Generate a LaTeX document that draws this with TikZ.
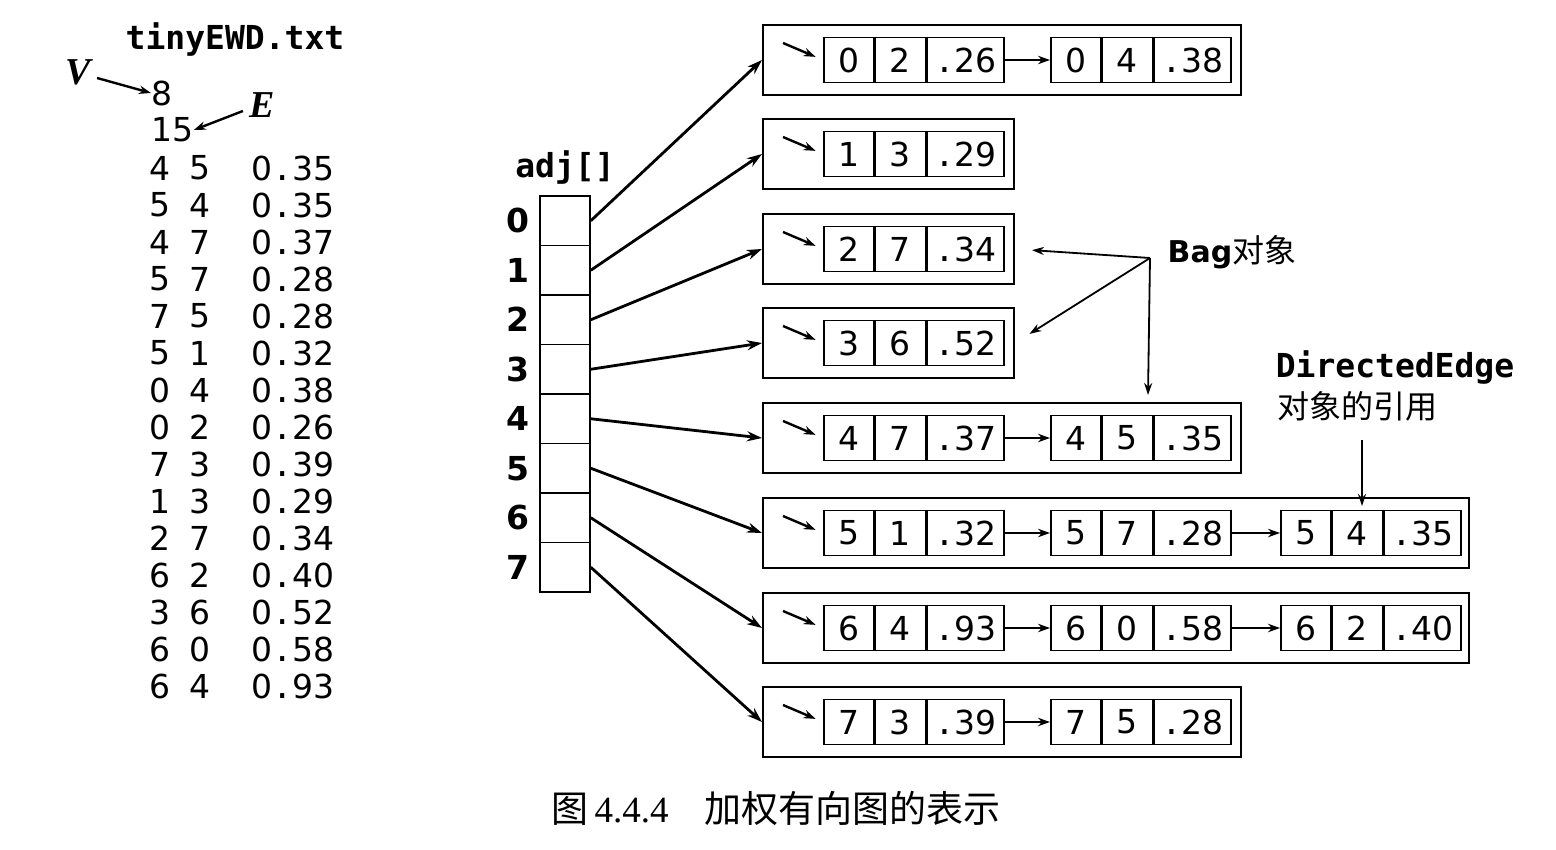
\documentclass[tikz,border=0pt]{standalone}
\usepackage{fontspec}
\usetikzlibrary{arrows.meta,calc}
\setmainfont{Liberation Serif}
\newfontfamily\mono{DejaVu Sans Mono}
\newfontfamily\cjk{Noto Sans CJK SC}
\newfontfamily\lsans{DejaVu Sans}
\newcommand\dotm{{\mono.}}
\newcommand\edgerec[6]{%
 \node[cell,minimum width=25pt,anchor=west] (#1a) at (#2,#3) {#4};
 \node[cell,minimum width=25pt,anchor=west] (#1b) at (#1a.east) {#5};
 \node[cell,minimum width=38.5pt,anchor=west] (#1c) at (#1b.east) {\dotm#6};}
\begin{document}
\begin{tikzpicture}[x=0.5pt,y=-0.5pt,
 cell/.style={draw, line width=0.8pt, minimum height=22.5pt, inner sep=0pt, font=\lsans\fontsize{16.5}{18}\selectfont},
 acell/.style={draw, line width=0.8pt, minimum height=24.75pt, minimum width=25pt, inner sep=0pt},
 bagbox/.style={draw, line width=1pt, minimum height=35pt, inner sep=0pt, anchor=west},
 arr/.style={line width=1.4pt, -{Stealth[length=7.5pt,width=5pt]}},
 sarr/.style={line width=1.2pt, -{Stealth[length=6pt,width=4.2pt]}},
 larr/.style={line width=0.9pt, -{Stealth[length=6pt,width=4pt]}},
 txt/.style={inner sep=0pt, font=\lsans\fontsize{16.5}{18}\selectfont},
 btxt/.style={inner sep=0pt, font=\mono\bfseries\fontsize{16.5}{18}\selectfont},
 idx/.style={inner sep=0pt, font=\lsans\bfseries\fontsize{16.5}{18}\selectfont},
 ital/.style={inner sep=0pt, font=\bfseries\itshape\fontsize{19}{20}\selectfont}]
\useasboundingbox (0,0) rectangle (1556,850);
% file listing
\node[btxt] (title) at (235,40) {tinyEWD.txt};
\node[ital] (V) at (78,72) {V};
\node[ital] (E) at (262,105) {E};
\node[txt,anchor=west] (nv) at (151,93) {8};
\node[txt,anchor=west] (ne) at (151,130) {15};
\draw[sarr] (V.east) ++(6,6) coordinate (vs) (vs) -- (nv.west);
\draw[sarr] (E.west) ++(-6,6) coordinate (es) (es) -- (ne.east);
\foreach \a/\b/\w [count=\k from 0] in {4/5/35,5/4/35,4/7/37,5/7/28,7/5/28,5/1/32,0/4/38,0/2/26,7/3/39,1/3/29,2/7/34,6/2/40,3/6/52,6/0/58,6/4/93}{
 \node[txt] (la\k) at (160,168+37*\k) {\a};
 \node[txt] (lb\k) at (200,168+37*\k) {\b};
 \node[txt,anchor=west] (lw\k) at (251,168+37*\k) {0\dotm\w};
}
% adj array
\node[btxt] (adjlbl) at (565,168) {adj[]};
\foreach \i in {0,...,7}{
 \node[acell] (a\i) at (565,220.75+49.5*\i) {};
 \node[idx] (l\i) at (518,220.75+49.5*\i) {\i};
}
% edge records
\edgerec{r01}{823}{60}{0}{2}{26}
\edgerec{r02}{1050}{60}{0}{4}{38}
\edgerec{r11}{823}{154}{1}{3}{29}
\edgerec{r21}{823}{249}{2}{7}{34}
\edgerec{r31}{823}{343}{3}{6}{52}
\edgerec{r41}{823}{438}{4}{7}{37}
\edgerec{r42}{1050}{438}{4}{5}{35}
\edgerec{r51}{823}{533}{5}{1}{32}
\edgerec{r52}{1050}{533}{5}{7}{28}
\edgerec{r53}{1280}{533}{5}{4}{35}
\edgerec{r61}{823}{628}{6}{4}{93}
\edgerec{r62}{1050}{628}{6}{0}{58}
\edgerec{r63}{1280}{628}{6}{2}{40}
\edgerec{r71}{823}{722}{7}{3}{39}
\edgerec{r72}{1050}{722}{7}{5}{28}
\draw[sarr] (r01c.east) -- (r02a.west);
\draw[sarr] (r41c.east) -- (r42a.west);
\draw[sarr] (r51c.east) -- (r52a.west);
\draw[sarr] (r52c.east) -- (r53a.west);
\draw[sarr] (r61c.east) -- (r62a.west);
\draw[sarr] (r62c.east) -- (r63a.west);
\draw[sarr] (r71c.east) -- (r72a.west);
% bags
\foreach \i/\cy/\w in {0/60/239,1/154/125.5,2/249/125.5,3/343/125.5,4/438/239,5/533/353,6/628/353,7/722/239}{
 \node[bagbox, minimum width=\w pt] (bag\i) at (762,\cy) {};
 \draw[arr] (a\i.east) -- (bag\i.west);
 \coordinate (p\i) at (783,\cy-17);
 \draw[sarr, shorten >=4pt] (p\i) -- (r\i1a.west);
}
% Bag label
\node[inner sep=0pt] (baglbl) at (1232,252) {{\lsans\bfseries\fontsize{15}{18}\selectfont Bag}{\cjk\fontsize{16}{18}\selectfont 对象}};
\coordinate (bsrc) at (1150,258);
\coordinate (b4t) at (1148,395);
\draw[larr, shorten >=8.5pt] (bsrc) -- (bag2.east);
\draw[larr, shorten >=8.5pt] (bsrc) -- (bag3.east);
\draw[larr] (bsrc) -- (b4t);
% DirectedEdge label
\node[btxt] (delbl) at (1395,368) {DirectedEdge};
\node[inner sep=0pt, font=\cjk\fontsize{16}{18}\selectfont] (delbl2) at (1357,406) {对象的引用};
\coordinate (dsrc) at (1362,440);
\coordinate (dtgt) at (1362,506);
\draw[larr] (dsrc) -- (dtgt);
% caption
\node[inner sep=0pt, font=\fontsize{18.5}{20}\selectfont] (cap) at (776,808) {{\cjk 图}\,4.4.4\hspace{18pt}{\cjk 加权有向图的表示}};
\end{tikzpicture}
\end{document}
